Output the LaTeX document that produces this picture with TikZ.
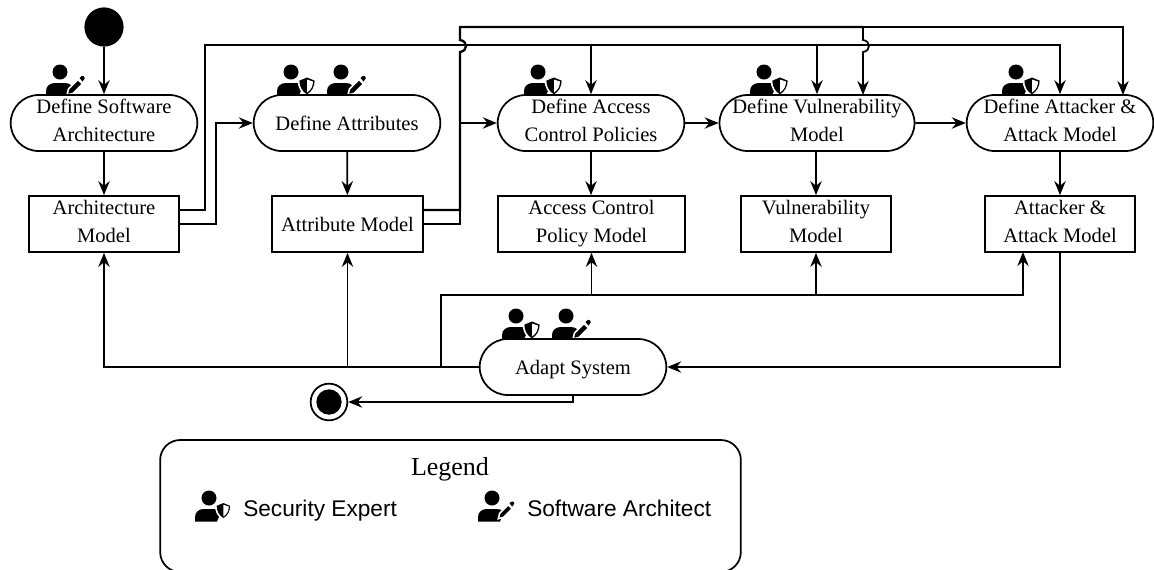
\documentclass[tikz,border=0pt]{standalone}
\usepackage{fontspec}
\setmainfont{Liberation Serif}
\setsansfont{Liberation Sans}
\usepackage{tikz}
\usetikzlibrary{arrows.meta,shapes.misc}
\newcommand{\linestrut}{\rule[-3.5pt]{0pt}{18.5pt}}

\begin{document}
\begin{tikzpicture}[x=0.75pt,y=-0.75pt,
		activity/.style={rounded rectangle,draw=black,fill=white,line width=1.3pt,
			minimum width=140pt,minimum height=42pt,inner sep=0pt,align=center,
			font=\fontsize{15.4}{21}\selectfont,
			execute at begin node=\linestrut,execute at end node=\linestrut},
		artifact/.style={rectangle,draw=black,fill=white,line width=1.3pt,
			minimum height=42pt,inner sep=0pt,align=center,
			font=\fontsize{15.4}{21}\selectfont,
			execute at begin node=\linestrut,execute at end node=\linestrut},
		legendtext/.style={anchor=base west,inner sep=0pt,font=\sffamily\fontsize{17}{20}\selectfont},
		flow/.style={draw=black,line width=1.3pt},
		busflow/.style={draw=black,line width=1.75pt},
		member/.pic={
			\fill (0,0) circle (7.5);
			\fill (-14,23.5) -- (-14,19) .. controls (-14,14) and (-10,11) .. (-5,11) -- (5,11)
				.. controls (8,11) and (10,12) .. (12,14) -- (8,23.5) -- cycle;
		},
		expert/.pic={
			\pic {member};
			\filldraw[draw=white,line width=1.2pt,fill=black] (16,4.5) -- (24.5,8)
				.. controls (24.5,15) and (22,20) .. (16,23.5)
				.. controls (10,20) and (7.5,15) .. (7.5,8) -- cycle;
			\fill[white] (16,7.5) -- (22,9.5) .. controls (22,14) and (20,18) .. (16,20.5) -- cycle;
		},
		architect/.pic={
			\pic {member};
			\filldraw[draw=white,line width=1.2pt,fill=black] (7,23) -- (8.5,17) -- (18,7.5) -- (22.5,12)
				-- (13,21.5) -- cycle;
			\fill (19.5,6) -- (21,4.5) .. controls (22,3.5) and (23,3.5) .. (24,4.5)
				.. controls (25,5.5) and (25,6.5) .. (24,7.5) -- (22.5,9.5) -- cycle;
		}]
	\useasboundingbox (0,0) rectangle (1154,569);

	% icons go first, the activities cover their lower edge
	\pic at (60,72) {architect};
	\pic at (291,72) {expert};
	\pic at (341,72) {architect};
	\pic at (538,72) {expert};
	\pic at (764,72) {expert};
	\pic at (1016,72) {expert};
	\pic at (516,316) {expert};
	\pic at (566,316) {architect};

	\node (start) at (104,27) [circle,fill=black,inner sep=0pt,minimum size=29.4pt] {};

	\begin{scope}[every node/.style={activity}]
		% top row
		\node (defsw) at (104,123) {Define Software\\Architecture};
		\node (defattr) at (347,123) {Define Attributes};
		\node (defacp) at (591,123) {Define Access\\Control Policies};
		\node (defvuln) at (817,123) {Define Vulnerability\\Model};
		\node (defatk) at (1060,123) {Define Attacker \&\\Attack Model};
		% feedback
		\node (adapt) at (573,367) {Adapt System};
	\end{scope}

	\begin{scope}[every node/.style={artifact}]
		\node (archm) at (104,224) [minimum width=112.5pt] {Architecture\\Model};
		\node (attrm) at (347.5,224) [minimum width=113pt] {Attribute Model};
		\node (acpm) at (591.5,224) [minimum width=140pt] {Access Control\\Policy Model};
		\node (vulnm) at (816,224) [minimum width=112.5pt] {Vulnerability\\Model};
		\node (atkm) at (1060,224) [minimum width=112.5pt] {Attacker \&\\Attack Model};
	\end{scope}

	\node (final) at (329,402) [circle,draw=black,fill=white,line width=1.3pt,inner sep=0pt,minimum size=27.5pt] {};
	\node (finalcore) at (329,402) [circle,fill=black,inner sep=0pt,minimum size=19pt] {};

	% legend
	\node (legendbox) at (450.5,506) [draw=black,line width=1.3pt,rounded corners=15pt,
		minimum width=435.5pt,minimum height=99pt] {};
	\node (legendtitle) at (450,475) [anchor=base,inner sep=0pt,font=\fontsize{19.5}{24}\selectfont] {Legend};
	\pic [scale=0.9] at (209,498) {expert};
	\node (expertlabel) at (243,516) [legendtext] {Security Expert};
	\pic [scale=0.9] at (492,498) {architect};
	\node (architectlabel) at (527,516) [legendtext] {Software Architect};

	% free ends of the elbows
	\coordinate (archout) at (178,210);
	\coordinate (attrout) at (423,210);
	\coordinate (lowbus) at (205,45);
	\coordinate (highbus) at (460,27);
	\coordinate (jumpa) at (460,52);
	\coordinate (jumpb) at (460,40);
	\coordinate (jumpc) at (863,40);
	\coordinate (jumpd) at (863,52);
	\coordinate (vulntop) at (863,95);
	\coordinate (atktop) at (1123,95);
	\coordinate (backbus) at (441,295);
	\coordinate (atkback) at (1023,252);

	\begin{scope}[>={Stealth[black,length=10.5pt,width=8.5pt,inset=3.5pt]},
				every edge/.style={flow}]
		\path [->] (start) edge (defsw);
		\path [->] (defsw) edge (archm);
		\path [->] (defattr) edge (attrm);
		\path [->] (defacp.south) edge (defacp.south |- acpm.north);
		\path [->] (defvuln.south -| vulnm) edge (vulnm);
		\path [->] (defatk) edge (atkm);
		\path [->] (defacp) edge (defvuln);
		\path [->] (defvuln) edge (defatk);

		% model to the next activities
		\draw [flow,->] (archm.east) -| (216,123) -- (defattr.west);
		\draw [busflow] (archout) -- (archout -| lowbus) -- (lowbus) -- (lowbus -| defvuln.north);
		\draw [flow,->] (lowbus -| defvuln.north) -| (defatk.north);
		\path [->] (lowbus -| defacp.north) edge (defacp.north);
		\path [->] (lowbus -| defvuln.north) edge (defvuln.north);
		\draw [flow] (attrm.east) -| (attrout -| highbus);
		\draw [busflow] (attrout) -- (attrout -| highbus) -- (jumpa)
			.. controls (468,51) and (468,41) .. (jumpb) -- (highbus) -- (highbus -| jumpc);
		\draw [flow,->] (highbus |- defacp.west) -- (defacp.west);
		\draw [flow,->] (highbus -| jumpc) -| (atktop);
		\draw [flow,->] (highbus -| jumpc) -- (jumpc)
			.. controls (871,41) and (871,51) .. (jumpd) -- (vulntop);

		% feedback from the adaptation
		\draw [flow,->] (adapt.west -| attrm) -- (adapt.west -| archm) -- (archm);
		\draw [busflow] (adapt.west) -- (adapt.west -| attrm);
		\draw [flow,->] (adapt.west -| attrm) -- (attrm);
		\draw [busflow] (adapt.west -| backbus) -- (backbus) -- (backbus -| vulnm);
		\draw [flow,->] (backbus -| vulnm) -| (atkback);
		\draw [flow,->] (backbus -| acpm) -- (acpm);
		\draw [flow,->] (backbus -| vulnm) -- (vulnm);
		\draw [flow,->] (atkm) |- (adapt.east);
		\draw [flow,->] (adapt.south) |- (final);
	\end{scope}
\end{tikzpicture}
\end{document}
